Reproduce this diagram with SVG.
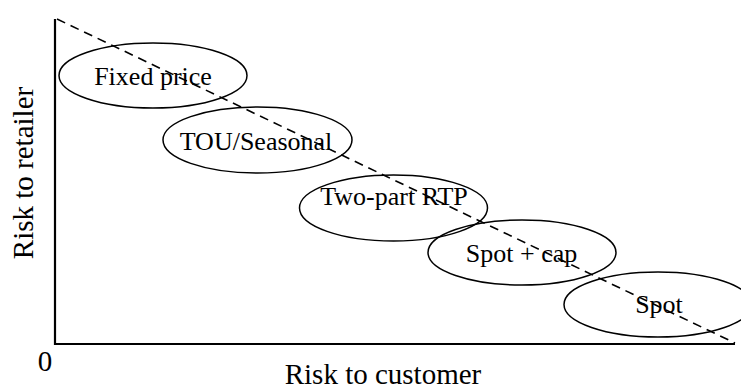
<svg xmlns="http://www.w3.org/2000/svg" width="741" height="390" viewBox="0 0 741 390">
  <style>
    .bg { fill: #ffffff; }
    .axis { stroke: #000; stroke-width: 2.2; fill: none; }
    .trend { stroke: #000; stroke-width: 1.6; fill: none; stroke-dasharray: 9 6; }
    .oval { stroke: #000; stroke-width: 1.5; fill: none; }
    .lbl { font-family: "Liberation Serif", "Times New Roman", serif; font-size: 26px; fill: #000; text-anchor: middle; }
    .axlbl { font-family: "Liberation Serif", "Times New Roman", serif; font-size: 29px; fill: #000; text-anchor: middle; }
  </style>
  <rect class="bg" x="0" y="0" width="741" height="390"/>

  <!-- axes and the risk trade-off line -->
  <g id="connectors">
    <polyline class="axis" points="55,19 55,344 735,344"/>
    <line class="trend" x1="57" y1="19" x2="735" y2="343"/>
  </g>

  <g id="fixed-price">
    <ellipse class="oval" cx="153" cy="75.5" rx="94" ry="32.5"/>
    <text class="lbl" x="153" y="85">Fixed price</text>
  </g>
  <g id="tou-seasonal">
    <ellipse class="oval" cx="257.5" cy="140" rx="94.5" ry="33"/>
    <text class="lbl" x="256" y="150">TOU/Seasonal</text>
  </g>
  <g id="two-part-rtp">
    <ellipse class="oval" cx="393.5" cy="208" rx="94" ry="33"/>
    <text class="lbl" x="394" y="205">Two-part RTP</text>
  </g>
  <g id="spot-cap">
    <ellipse class="oval" cx="522" cy="252.5" rx="94" ry="32.5"/>
    <text class="lbl" x="521.5" y="262">Spot + cap</text>
  </g>
  <g id="spot">
    <ellipse class="oval" cx="658" cy="304.5" rx="94" ry="32.5"/>
    <text class="lbl" x="659" y="313">Spot</text>
  </g>

  <!-- axis labels -->
  <text class="axlbl" x="45" y="371">0</text>
  <text class="axlbl" x="383" y="384">Risk to customer</text>
  <text class="axlbl" transform="translate(33,173) rotate(-90)" x="0" y="0">Risk to retailer</text>
</svg>
